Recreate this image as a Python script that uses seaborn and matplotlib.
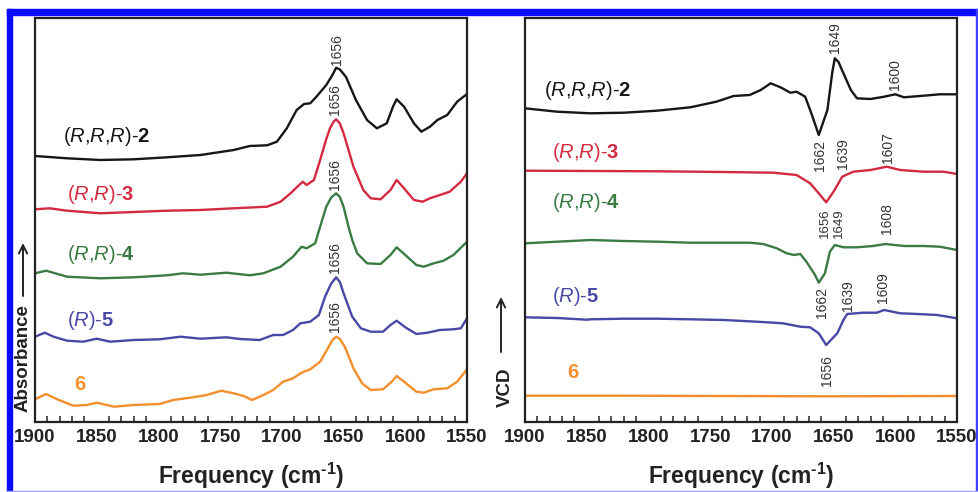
import matplotlib
matplotlib.use("Agg")
import matplotlib.pyplot as plt
from matplotlib.patches import Rectangle
from matplotlib.ticker import MultipleLocator
import seaborn as sns
import pandas as pd

# ---------------- data (arbitrary units) ----------------
# Absorbance panel
abs2_f = [1900, 1874, 1847, 1820, 1793, 1766, 1739, 1726, 1712, 1704, 1696, 1688, 1682, 1677, 1672,
          1664, 1659, 1656, 1653, 1648, 1640, 1631, 1623, 1615, 1610, 1607, 1601, 1593, 1587, 1580, 1574,
          1566, 1558, 1550]
abs2_v = [266, 263.7, 262, 262.7, 264.7, 267, 272, 276, 276.7, 280.3, 293.7, 312, 318, 318.7, 325.3,
          337, 347, 354.3, 352.5, 345, 322, 302, 293.7, 298.7, 315.3, 322.7, 315.3, 298.7, 290.3, 295.3, 302,
          307, 320.3, 328]

abs3_f = [1900, 1888, 1874, 1847, 1820, 1793, 1766, 1739, 1712, 1701, 1693, 1686, 1683, 1680, 1674,
          1669, 1664, 1661, 1658, 1656, 1653, 1650, 1642, 1634, 1628, 1620, 1612, 1607, 1601, 1593, 1586,
          1580, 1572, 1564, 1555, 1550]
abs3_v = [212.7, 213.7, 211.3, 208.7, 210, 211.3, 212, 213.7, 215.3, 220.3, 228.7, 237, 240.3, 237, 242,
          262, 283, 293.7, 300.5, 302.7, 298.5, 288.7, 255.3, 232, 223.7, 222.7, 232, 242, 233.7, 222, 220.3,
          223.7, 227, 230.3, 240.3, 248.7]

abs4_f = [1900, 1891, 1874, 1847, 1820, 1793, 1780, 1766, 1745, 1726, 1715, 1701, 1691, 1684, 1680,
          1673, 1669, 1664, 1660, 1656, 1653, 1650, 1646, 1643, 1639, 1631, 1620, 1612, 1607, 1600, 1591,
          1585, 1577, 1569, 1561, 1550]
abs4_v = [148.7, 151.3, 145.3, 143.7, 144.7, 146.7, 148.7, 147.3, 149.3, 146.7, 148.7, 155.3, 165.3, 175.3,
          173.7, 178.7, 195.3, 215.3, 224.5, 228.7, 225, 215.3, 195.3, 182, 168.7, 158.7, 158, 167, 174.7,
          167, 157, 155.3, 158.7, 161.3, 167, 180.3]

abs5_f = [1900, 1892, 1885, 1874, 1861, 1850, 1839, 1820, 1799, 1782, 1766, 1745, 1734, 1718, 1707,
          1699, 1691, 1685, 1677, 1670, 1665, 1660, 1656, 1653, 1650, 1643, 1636, 1628, 1618, 1612, 1607,
          1600, 1591, 1582, 1572, 1561, 1555, 1550]
abs5_v = [85.3, 89.3, 85.3, 81.3, 80.3, 83.3, 80.3, 82, 82.7, 85.3, 83.3, 84.7, 83, 82, 87,
          87, 92, 98.7, 100.3, 107, 125.3, 138.5, 144.7, 140, 128.7, 105.3, 93.7, 90.3, 90.3, 97, 101.3,
          94.7, 88, 89.3, 92, 92.7, 93.7, 103.7]

abs6_f = [1900, 1891, 1882, 1869, 1858, 1850, 1836, 1820, 1799, 1788, 1772, 1761, 1749, 1739, 1731,
          1724, 1715, 1707, 1699, 1691, 1684, 1677, 1669, 1662, 1659, 1656, 1653, 1649, 1642, 1635, 1628,
          1618, 1611, 1607, 1601, 1591, 1585, 1577, 1566, 1558, 1550]
abs6_v = [22.7, 28, 22.7, 16.3, 17, 19.3, 15.3, 17, 18, 22, 24.7, 27, 31.3, 28.7, 26,
          22, 27, 32, 40.3, 43.7, 49.3, 52.7, 60.3, 75.3, 82, 85.3, 83, 75.3, 53.7, 38.7, 32,
          32.7, 40.3, 46, 40.3, 30.3, 29.3, 32.7, 33.7, 40.3, 52.7]

# VCD panel
vcd2_f = [1900, 1874, 1847, 1820, 1793, 1766, 1745, 1731, 1718, 1709, 1701, 1693, 1685, 1680, 1673,
          1668, 1662, 1655, 1651, 1649, 1646, 1642, 1636, 1631, 1620, 1609, 1600, 1593, 1577, 1564, 1550]
vcd2_v = [313.7, 310.3, 308.7, 309.3, 311.3, 314.7, 320.3, 326, 327, 332, 338.7, 334.7, 329.3, 330.3, 325.3,
          308.7, 287, 312, 350, 363.7, 360, 348.7, 332, 323.7, 323, 325.3, 327.7, 324.7, 326.3, 327.7, 327.7]

vcd3_f = [1900, 1847, 1793, 1739, 1699, 1680, 1669, 1662, 1656, 1650, 1643, 1634, 1620, 1607, 1596,
          1577, 1561, 1550]
vcd3_v = [251.3, 251, 250.7, 250, 249.3, 247, 238.7, 228.7, 219.7, 230.3, 245.3, 250.3, 252, 255.3, 252,
          250.3, 250.3, 248]

vcd4_f = [1900, 1874, 1847, 1820, 1793, 1766, 1739, 1718, 1707, 1696, 1688, 1682, 1677, 1672, 1665,
          1662, 1657, 1653, 1649, 1642, 1631, 1618, 1608, 1593, 1577, 1564, 1550]
vcd4_v = [178.7, 180.3, 182, 181, 180.3, 179.3, 179.3, 179.3, 178, 173.7, 168.7, 167, 168, 160.3, 147,
          139.3, 148.7, 170.3, 177, 174.7, 174.7, 176, 178, 176, 176, 175.3, 172]

vcd5_f = [1900, 1874, 1850, 1847, 1820, 1793, 1766, 1739, 1712, 1691, 1677, 1669, 1662, 1656, 1647,
          1642, 1639, 1626, 1615, 1609, 1596, 1582, 1566, 1550]
vcd5_v = [104.7, 104, 102.3, 102.7, 103.3, 103.3, 102.7, 102, 100.3, 98.7, 95.3, 94.7, 88.7, 77, 88.7,
          102, 108, 109.3, 109.3, 112, 108.7, 108, 107, 103.7]

vcd6_f = [1900, 1820, 1739, 1658, 1550]
vcd6_v = [26.3, 26.3, 26, 25.7, 26]

# series names, colours
names = ["(R,R,R)-2", "(R,R)-3", "(R,R)-4", "(R)-5", "6"]
label_tex = [r"($\mathit{R}$,$\mathit{R}$,$\mathit{R}$)-$\mathbf{2}$",
             r"($\mathit{R}$,$\mathit{R}$)-$\mathbf{3}$",
             r"($\mathit{R}$,$\mathit{R}$)-$\mathbf{4}$",
             r"($\mathit{R}$)-$\mathbf{5}$",
             r"$\mathbf{6}$"]
colors = ["#161616", "#d42a40", "#3a7b44", "#4848a6", "#f28f2c"]

# label anchor positions (freq, value)
abs_label_pos = [(1877, 285), (1874, 228), (1874, 167), (1874, 102), (1868, 37)]
vcd_label_pos = [(1885, 332), (1878, 270), (1878, 220), (1878, 125), (1866, 49)]

# peak annotations: (text, freq, value, va, size)
abs_peaks = [("1656", 1655, 357, "bottom", 10), ("1656", 1657, 307, "bottom", 10),
             ("1656", 1657, 232, "bottom", 10), ("1656", 1657, 149, "bottom", 10),
             ("1656", 1657, 90, "bottom", 10)]
vcd_peaks = [("1649", 1649, 369, "bottom", 10), ("1600", 1600, 332, "bottom", 10),
             ("1662", 1661, 282, "top", 10), ("1639", 1642, 284, "top", 10),
             ("1607", 1606, 290, "top", 10),
             ("1656", 1657, 214, "top", 9.5), ("1649", 1645.5, 214, "top", 9.5),
             ("1608", 1607, 219, "top", 10),
             ("1662", 1659, 135, "top", 10), ("1639", 1638, 142, "top", 10),
             ("1609", 1610, 150, "top", 10), ("1656", 1655, 67, "top", 10)]

xticks = [1900, 1850, 1800, 1750, 1700, 1650, 1600, 1550]

# ---------------- style ----------------
sns.set_theme(style="white")
plt.rcParams["font.family"] = ["Liberation Sans", "DejaVu Sans"]
plt.rcParams["mathtext.fontset"] = "custom"
plt.rcParams["mathtext.rm"] = "Liberation Sans"
plt.rcParams["mathtext.it"] = "Liberation Sans:italic"
plt.rcParams["mathtext.bf"] = "Liberation Sans:bold"

W, H = 979, 492
fig = plt.figure(figsize=(W / 100, H / 100), dpi=100)
fig.patch.set_facecolor("white")


def fx(px):
    return px / W


def fy(py):
    return 1 - py / H


ax1 = fig.add_axes([fx(35), fy(422), fx(467) - fx(35), fy(18) - fy(422)])
ax2 = fig.add_axes([fx(525), fy(422), fx(957) - fx(525), fy(18) - fy(422)])

abs_series = [(abs2_f, abs2_v), (abs3_f, abs3_v), (abs4_f, abs4_v), (abs5_f, abs5_v), (abs6_f, abs6_v)]
vcd_series = [(vcd2_f, vcd2_v), (vcd3_f, vcd3_v), (vcd4_f, vcd4_v), (vcd5_f, vcd5_v), (vcd6_f, vcd6_v)]

for ax, series, lpos, peaks in [(ax1, abs_series, abs_label_pos, abs_peaks),
                                (ax2, vcd_series, vcd_label_pos, vcd_peaks)]:
    for (f, v), c, name in zip(series, colors, names):
        df = pd.DataFrame({"freq": f, "val": v})
        sns.lineplot(data=df, x="freq", y="val", ax=ax, color=c, lw=1.7,
                     sort=False, estimator=None)
    for (x, y), c, t in zip(lpos, colors, label_tex):
        ax.text(x, y, t, color=c, fontsize=14.5, ha="left", va="center")
    for t, x, y, va, sz in peaks:
        ax.text(x, y, t, rotation=90, fontsize=sz, color="#333333",
                ha="center", va=va)
    ax.set_xlim(1900, 1550)
    ax.set_ylim(0, 404)
    ax.set_yticks([])
    ax.set_ylabel("")
    ax.set_xticks(xticks)
    ax.xaxis.set_minor_locator(MultipleLocator(10))
    ax.tick_params(axis="x", which="major", direction="in", length=7, width=1.3,
                   color="#222222", pad=5, labelsize=13.5)
    ax.tick_params(axis="x", which="minor", direction="in", length=4, width=1.1,
                   color="#222222", bottom=True)
    for lab in ax.get_xticklabels():
        lab.set_fontweight("bold")
        lab.set_color("#222222")
    for s in ax.spines.values():
        s.set_linewidth(1.6)
        s.set_color("#222222")
        s.set_visible(True)
    ax.set_xlabel("Frequency (cm$^{\\mathbf{\u2010 1}}$)", fontsize=16.5, fontweight="bold",
                  color="#222222", labelpad=11)

# y labels with arrows
fig.text(fx(23), fy(358), "Absorbance", rotation=90, fontsize=13.5, fontweight="bold",
         color="#222222", ha="center", va="center")
fig.text(fx(505), fy(387), "VCD", rotation=90, fontsize=13.5, fontweight="bold",
         color="#222222", ha="center", va="center")
arrow = dict(arrowstyle="->,head_length=0.5,head_width=0.25", lw=1.4, color="#222222",
             shrinkA=0, shrinkB=0)
ax1.annotate("", xy=(fx(23), fy(243)), xytext=(fx(23), fy(296)),
             xycoords="figure fraction", textcoords="figure fraction", arrowprops=arrow)
ax2.annotate("", xy=(fx(501), fy(297)), xytext=(fx(501), fy(352)),
             xycoords="figure fraction", textcoords="figure fraction", arrowprops=arrow)

# blue frame
fig.patches.append(Rectangle((fx(7), 0), fx(5), fy(9), transform=fig.transFigure,
                             color="#0a0aff", zorder=10))
fig.patches.append(Rectangle((fx(7), fy(15)), 1 - fx(7), fy(9) - fy(15), transform=fig.transFigure,
                             color="#0a0aff", zorder=10))
fig.patches.append(Rectangle((fx(976.5), 0), fx(1.5), fy(9), transform=fig.transFigure,
                             color="#4040ff", zorder=10))
fig.patches.append(Rectangle((fx(7), 0), 1 - fx(7), fy(490.5), transform=fig.transFigure,
                             color="#a0a0ff", zorder=10))

fig.savefig("out.png", dpi=100, facecolor="white")
